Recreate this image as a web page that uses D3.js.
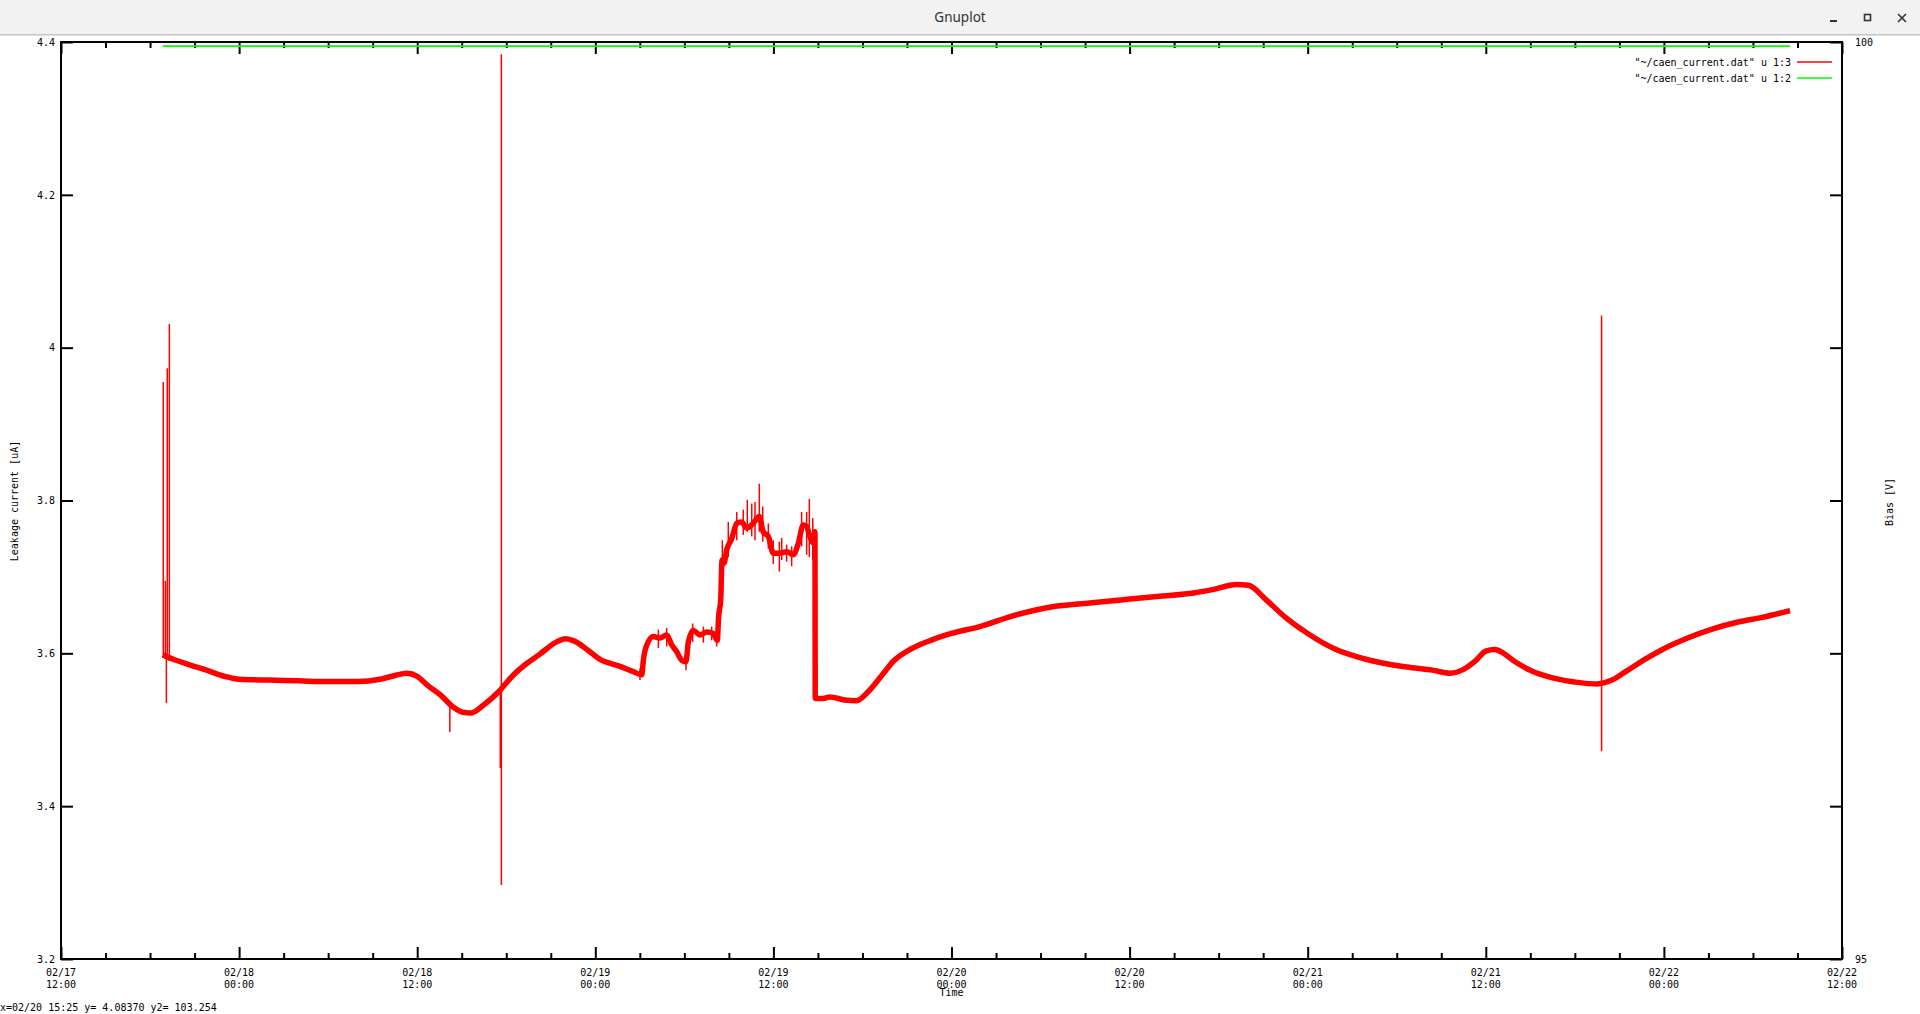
<!DOCTYPE html>
<html><head><meta charset="utf-8">
<script src="https://cdn.jsdelivr.net/npm/d3@7"></script>
<style>
html,body{margin:0;padding:0;background:#fff;overflow:hidden}
svg{display:block}
.g text{font-family:"DejaVu Sans Mono",monospace;font-size:10px;fill:#000}
</style></head><body>
<svg id="c" width="1920" height="1014"></svg>
<script>
// ---------------- data ----------------
const windowTitle = "Gnuplot";
const originISO = "2023-02-17T12:00:00Z";      // left edge of the time axis
const xDomainHours = [0, 120];                 // 02/17 12:00 .. 02/22 12:00
const yDomain = [3.2, 4.4];
const y2Domain = [95, 100];
const yTickValues = [3.2, 3.4, 3.6, 3.8, 4.0, 4.2, 4.4];
const yTickLabels = ["3.2", "3.4", "3.6", "3.8", "4", "4.2", "4.4"];
const y2TickValues = [95, 100];
const y2TickLabels = ["95", "100"];
const xMajorStepHours = 12;
const xMinorStepHours = 3;
const xLabel = "Time";
const yLabel = "Leakage current [uA]";
const y2Label = "Bias [V]";
const legendLabels = ['"~/caen_current.dat" u 1:3', '"~/caen_current.dat" u 1:2'];
const statusText = "x=02/20 15:25 y= 4.08370 y2= 103.254";

// leakage current (column 3), hours after 02/17 12:00
const currentHours = [6.85,7.6,8.5,9.8,11.0,12.0,14.0,16.0,18.0,20.0,21.5,22.5,23.3,24.0,24.7,25.6,26.4,27.05,27.6,28.45,29.5,30.5,31.4,32.2,33.4,34.0,34.6,35.5,36.32,37.66,38.56,39.13,39.24,39.40,39.91,40.36,40.81,41.15,41.49,41.82,42.11,42.27,42.60,43.05,43.51,43.95,44.22,44.31,44.45,44.54,44.67,44.85,45.19,45.53,45.86,46.20,46.64,47.05,47.32,47.66,47.99,48.44,48.90,49.34,49.68,50.01,50.24,50.46,50.69,50.80,50.82,51.36,51.81,52.8,53.6,54.4,55.3,56.1,57.3,58.6,60.0,61.9,64.3,66.8,69.3,72.0,74.2,76.3,77.5,79.2,80.0,81.2,82.5,84.0,85.8,87.4,89.1,90.7,92.4,93.6,94.5,95.3,96.0,96.6,97.2,97.9,99.1,100.5,102.2,103.5,104.5,105.5,106.8,108.0,109.6,111.3,113.0,114.6,116.5];
const currentValues = [3.598,3.592,3.586,3.578,3.570,3.566,3.565,3.564,3.563,3.563,3.566,3.571,3.574,3.570,3.558,3.545,3.530,3.523,3.522,3.532,3.550,3.572,3.587,3.598,3.615,3.619,3.616,3.604,3.592,3.583,3.576,3.572,3.591,3.607,3.622,3.620,3.624,3.611,3.602,3.591,3.589,3.615,3.630,3.624,3.628,3.626,3.617,3.648,3.670,3.722,3.718,3.735,3.750,3.770,3.772,3.764,3.770,3.779,3.759,3.753,3.731,3.731,3.733,3.729,3.744,3.768,3.766,3.753,3.744,3.759,3.541,3.541,3.543,3.539,3.538,3.550,3.571,3.590,3.606,3.617,3.626,3.635,3.650,3.661,3.666,3.671,3.675,3.679,3.683,3.690,3.689,3.670,3.647,3.626,3.606,3.595,3.587,3.582,3.578,3.574,3.579,3.590,3.603,3.605,3.600,3.590,3.577,3.568,3.562,3.560,3.565,3.577,3.593,3.606,3.620,3.632,3.641,3.647,3.656];

// single-sample excursions of the current (time, low, high)
const spikeHours = [6.89,7.03,7.10,7.16,7.30,26.2,29.6,29.67,103.8,
  39.01,40.25,40.81,42.11,42.56,43.28,43.84,44.18,44.56,44.96,45.53,45.97,46.24,46.54,46.76,47.05,47.28,47.66,47.99,48.40,48.56,48.89,49.23,49.90,50.24,50.42,50.65];
const spikeLow = [3.598,3.598,3.535,3.598,3.590,3.497,3.450,3.297,3.472,
  3.565,3.607,3.609,3.578,3.615,3.614,3.617,3.609,3.706,3.726,3.748,3.755,3.759,3.753,3.748,3.759,3.746,3.737,3.717,3.707,3.722,3.720,3.714,3.740,3.729,3.726,3.722];
const spikeHigh = [3.955,3.695,3.598,3.973,4.031,3.530,3.550,4.384,4.042,
  3.580,3.631,3.633,3.596,3.639,3.635,3.635,3.628,3.748,3.772,3.785,3.788,3.801,3.796,3.798,3.822,3.792,3.770,3.748,3.746,3.751,3.742,3.740,3.785,3.785,3.802,3.777];

// bias voltage (column 2)
const biasHours = [6.85, 116.5];
const biasValues = [99.977, 99.977];

// ---------------- drawing ----------------
const W = 1920, H = 1014;
const L = 61, R = 1842, T = 42, B = 959;
const svg = d3.select("#c");
const origin = new Date(originISO);
const toDate = h => new Date(origin.getTime() + h * 3600e3);

// window title bar
svg.append("rect").attr("x",0).attr("y",0).attr("width",W).attr("height",35).attr("fill","#f2f2f2");
svg.append("line").attr("x1",0).attr("x2",W).attr("y1",34.5).attr("y2",34.5).attr("stroke","#c4c4c4");
svg.append("line").attr("x1",0).attr("x2",W).attr("y1",35.5).attr("y2",35.5).attr("stroke","#e2e2e2");
svg.append("text").attr("x",960).attr("y",22).attr("text-anchor","middle")
  .attr("font-family","'Noto Sans',sans-serif").attr("font-size","13.5px").attr("fill","#2e3436").text(windowTitle);
const ctl = svg.append("g").attr("stroke","#2e3436").attr("fill","none");
ctl.append("line").attr("x1",1830).attr("x2",1837).attr("y1",21).attr("y2",21).attr("stroke-width",2);
ctl.append("rect").attr("x",1864.5).attr("y",14.5).attr("width",6).attr("height",6).attr("stroke-width",1.6);
ctl.append("path").attr("d","M1898,14 L1906,22 M1906,14 L1898,22").attr("stroke-width",1.6);

const g = svg.append("g").attr("class","g");

const x = d3.scaleUtc().domain(xDomainHours.map(toDate)).range([L, R]);
const y = d3.scaleLinear().domain(yDomain).range([B, T]);
const y2 = d3.scaleLinear().domain(y2Domain).range([B, T]);

const majors = d3.range(xDomainHours[0], xDomainHours[1] + 0.001, xMajorStepHours).map(toDate);
const minors = d3.range(xDomainHours[0], xDomainHours[1] + 0.001, xMinorStepHours)
  .filter(h => h % xMajorStepHours !== 0).map(toDate);

function styleAxis(sel) {
  sel.select(".domain").remove();
  sel.selectAll(".tick line").attr("stroke","#000").attr("stroke-width",2);
}
// x ticks bottom (inward) and top (mirror)
g.append("g").attr("transform",`translate(0,${B})`).call(d3.axisBottom(x).tickValues(minors).tickSize(-6).tickFormat("")).call(styleAxis);
g.append("g").attr("transform",`translate(0,${B})`).call(d3.axisBottom(x).tickValues(majors).tickSize(-12).tickFormat("")).call(styleAxis);
g.append("g").attr("transform",`translate(0,${T})`).call(d3.axisTop(x).tickValues(minors).tickSize(-6).tickFormat("")).call(styleAxis);
g.append("g").attr("transform",`translate(0,${T})`).call(d3.axisTop(x).tickValues(majors).tickSize(-12).tickFormat("")).call(styleAxis);

// x tick labels (two lines)
const fmtD = d3.utcFormat("%m/%d"), fmtT = d3.utcFormat("%H:%M");
majors.forEach(d => {
  const t = g.append("text").attr("text-anchor","middle");
  t.append("tspan").attr("x", x(d)).attr("y", 976).text(fmtD(d));
  t.append("tspan").attr("x", x(d)).attr("y", 988).text(fmtT(d));
});
g.append("text").attr("x",(L+R)/2).attr("y",996).attr("text-anchor","middle").text(xLabel);

// y axis left (ticks inward)
g.append("g").attr("transform",`translate(${L},0)`)
  .call(d3.axisLeft(y).tickValues(yTickValues).tickSize(-12).tickPadding(6)
    .tickFormat((d,i) => yTickLabels[i]))
  .call(styleAxis)
  .call(s => s.selectAll(".tick text").attr("font-family",null).attr("font-size",null).attr("fill","#000"));
// right side mirror ticks
g.append("g").attr("transform",`translate(${R},0)`)
  .call(d3.axisRight(y).tickValues(yTickValues).tickSize(-12).tickFormat(""))
  .call(styleAxis);
// y2 labels
g.append("g").attr("transform",`translate(${R},0)`)
  .call(d3.axisRight(y2).tickValues(y2TickValues).tickSize(0).tickPadding(13)
    .tickFormat((d,i) => y2TickLabels[i]))
  .call(styleAxis)
  .call(s => s.selectAll(".tick text").attr("font-family",null).attr("font-size",null).attr("fill","#000"));

g.append("text").attr("transform","translate(18,501) rotate(-90)").attr("text-anchor","middle").text(yLabel);
g.append("text").attr("transform","translate(1893,502) rotate(-90)").attr("text-anchor","middle").text(y2Label);

// data: bias (green)
const biasData = biasHours.map((h,i) => ({t: toDate(h), v: biasValues[i]}));
g.append("path").datum(biasData)
  .attr("d", d3.line().x(d => x(d.t)).y(d => y2(d.v)))
  .attr("fill","none").attr("stroke","#00ff00").attr("stroke-width",1.8);

// data: current (red)
const curData = currentHours.map((h,i) => ({t: toDate(h), v: currentValues[i]}));
g.append("path").datum(curData)
  .attr("d", d3.line().curve(d3.curveMonotoneX).x(d => x(d.t)).y(d => y(d.v)))
  .attr("fill","none").attr("stroke","#ff0000").attr("stroke-width",5.5).attr("stroke-linejoin","round");
g.append("g").selectAll("line").data(spikeHours.map((h,i) => ({t: toDate(h), lo: spikeLow[i], hi: spikeHigh[i]})))
  .join("line")
  .attr("x1", d => x(d.t)).attr("x2", d => x(d.t))
  .attr("y1", d => y(d.lo)).attr("y2", d => y(d.hi))
  .attr("stroke","#ff0000").attr("stroke-width",1.5);

// frame
g.append("rect").attr("x",L).attr("y",T).attr("width",R-L).attr("height",B-T)
  .attr("fill","none").attr("stroke","#000").attr("stroke-width",2);

// legend
const legColors = ["#ff0000", "#00ff00"];
legendLabels.forEach((lab, i) => {
  const cy = 62 + i * 16;
  g.append("text").attr("x",1791).attr("y",cy + 3.6).attr("text-anchor","end").text(lab);
  g.append("line").attr("x1",1797).attr("x2",1832).attr("y1",cy).attr("y2",cy)
    .attr("stroke",legColors[i]).attr("stroke-width",1.6);
});

// status line
g.append("text").attr("x",0).attr("y",1011).text(statusText);
</script>
</body></html>
